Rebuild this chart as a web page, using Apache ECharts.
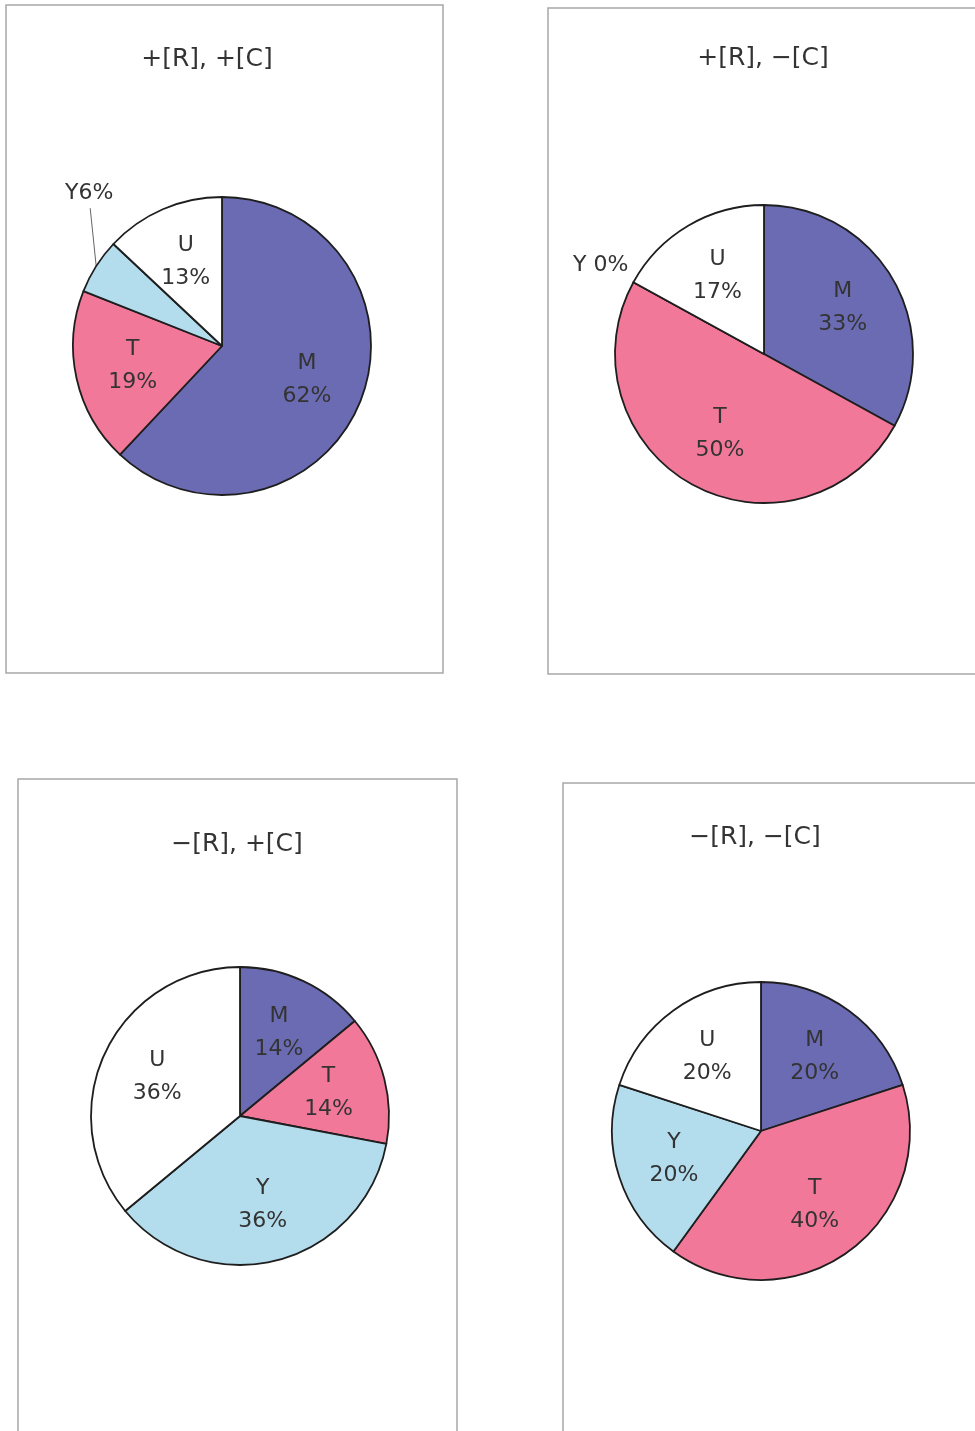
<!DOCTYPE html>
<html>
<head>
<meta charset="utf-8">
<script src="https://cdn.jsdelivr.net/npm/echarts@6/dist/echarts.min.js"></script>
<style>
  html, body { margin: 0; padding: 0; background: #fff; }
  #chart { width: 975px; height: 1431px; }
</style>
</head>
<body>
<div id="chart"></div>
<script>
// categories, clockwise from 12 o'clock
const categories = ['M', 'T', 'Y', 'U']
const titles = ['+[R], +[C]', '+[R], −[C]', '−[R], +[C]', '−[R], −[C]']
// percentages per panel
const plusRplusC = [62, 19, 6, 13]
const plusRminusC = [33, 50, 0, 17]
const minusRplusC = [14, 14, 36, 36]
const minusRminusC = [20, 40, 20, 20]
const colors = ['#6b6bb3', '#f2789a', '#b3dcec', '#ffffff']

// layout of the four framed panels
const panels = [
    { values: plusRplusC, box: [6, 5, 437, 668], center: [222, 346], titleX: 202, titleY: 42, outside: 'leader' },
    { values: plusRminusC, box: [548, 8, 440, 666], center: [764, 354], titleX: 758, titleY: 41, outside: 'plain' },
    { values: minusRplusC, box: [18, 779, 439, 680], center: [240, 1116], titleX: 232, titleY: 827, outside: null },
    { values: minusRminusC, box: [563, 783, 430, 680], center: [761, 1131], titleX: 750, titleY: 820, outside: null }
]
const R = 149
const fontFamily = 'DejaVu Sans'

function edgePoint(panel, idx) {
    let total = panel.values.reduce((a, b) => a + b, 0)
    let before = 0
    for (let i = 0; i < idx; i++) before += panel.values[i]
    let ang = (before + panel.values[idx] / 2) / total * Math.PI * 2
    return [panel.center[0] + R * Math.sin(ang), panel.center[1] - R * Math.cos(ang)]
}

let chart = echarts.init(document.getElementById('chart'))

let series = panels.map((p, pi) => {
    return {
        type: 'pie',
        center: p.center,
        radius: R,
        startAngle: 90,
        clockwise: true,
        avoidLabelOverlap: false,
        animation: false,
        silent: true,
        itemStyle: { borderColor: '#1e1e1e', borderWidth: 1.8 },
        label: {
            position: 'inside',
            formatter: '{b}\n{c}%',
            fontFamily: fontFamily,
            fontSize: 22,
            lineHeight: 33,
            color: '#333'
        },
        labelLine: { show: false },
        data: categories.map((c, i) => {
            let item = { name: c, value: p.values[i], itemStyle: { color: colors[i] } }
            if (c === 'Y' && p.outside) {
                item.label = {
                    position: 'outside',
                    formatter: p.outside === 'leader' ? '{b}{c}%' : '{b} {c}%',
                    fontSize: 22,
                    color: '#333'
                }
                item.labelLine = {
                    show: p.outside === 'leader',
                    lineStyle: { color: '#666', width: 1 }
                }
            }
            return item
        }),
        labelLayout: function (params) {
            let idx = params.dataIndex
            if (categories[idx] === 'Y' && p.outside) {
                let e = edgePoint(p, idx)
                if (p.outside === 'leader') {
                    let end = [e[0] - 6, e[1] - 58]
                    return {
                        x: e[0] - 7, y: e[1] - 73,
                        align: 'center', verticalAlign: 'middle',
                        labelLinePoints: [e, end, end]
                    }
                }
                return { x: e[0] - 5, y: e[1] - 17, align: 'right', verticalAlign: 'middle' }
            }
            // push inside labels a bit further out, as in the original
            let rc = params.labelRect
            let lx = rc.x + rc.width / 2
            let ly = rc.y + rc.height / 2
            return {
                x: p.center[0] + (lx - p.center[0]) * 1.18,
                y: p.center[1] + (ly - p.center[1]) * 1.18,
                align: 'center', verticalAlign: 'middle'
            }
        }
    }
})

let option = {
    backgroundColor: '#fff',
    animation: false,
    title: panels.map((p, i) => ({
        text: titles[i],
        left: p.titleX,
        top: p.titleY,
        textAlign: 'center',
        textStyle: { fontFamily: fontFamily, fontSize: 25, fontWeight: 'normal', color: '#333' }
    })),
    graphic: panels.map(p => ({
        type: 'rect',
        shape: { x: p.box[0], y: p.box[1], width: p.box[2], height: p.box[3] },
        style: { fill: 'none', stroke: '#a8a8a8', lineWidth: 1.5 },
        z: -1
    })),
    series: series
}
chart.setOption(option)
</script>
</body>
</html>
